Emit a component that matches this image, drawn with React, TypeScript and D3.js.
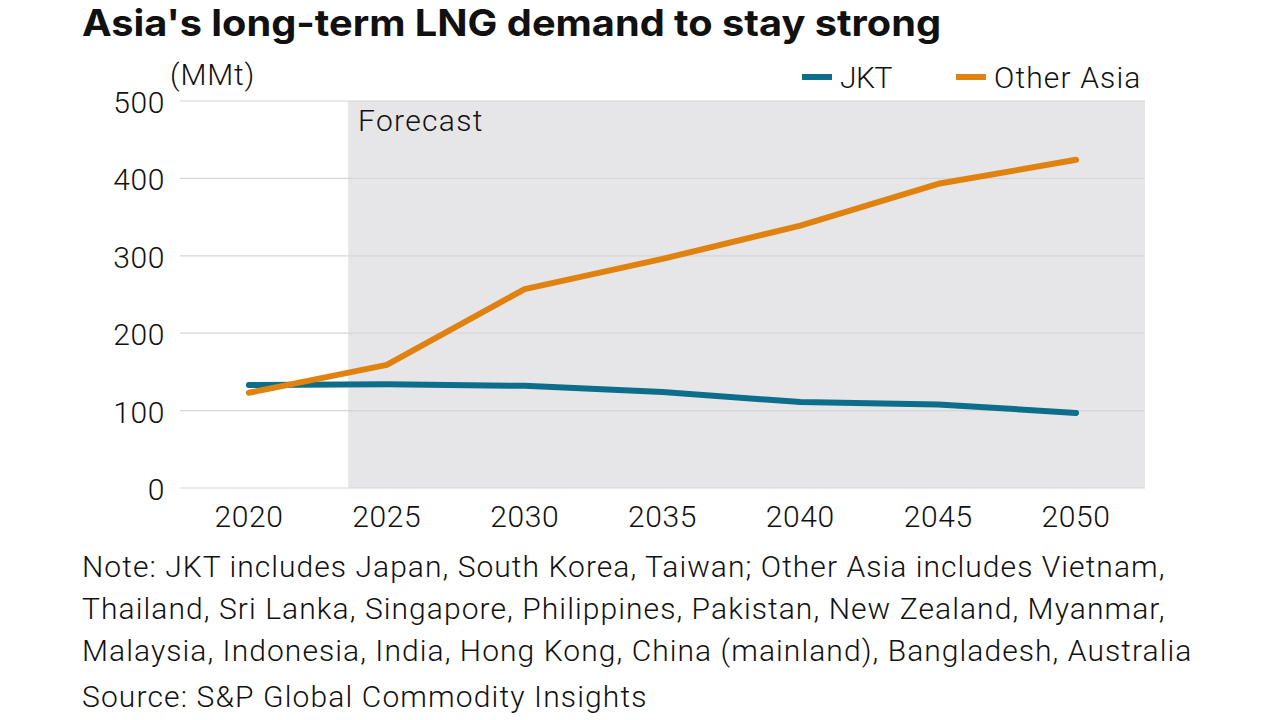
import React, { useEffect, useRef } from "react";
import * as d3 from "d3";

const years = [2020, 2025, 2030, 2035, 2040, 2045, 2050];
const jkt = [133, 134, 132, 124, 111, 108, 97];
const otherAsia = [123, 159, 257, 296, 339, 393, 424];
const yTicks = [0, 100, 200, 300, 400, 500];
const forecastStart = 2023.6;

const title = "Asia's long-term LNG demand to stay strong";
const noteLines = [
  "Note: JKT includes Japan, South Korea, Taiwan; Other Asia includes Vietnam,",
  "Thailand, Sri Lanka, Singapore, Philippines, Pakistan, New Zealand, Myanmar,",
  "Malaysia, Indonesia, India, Hong Kong, China (mainland), Bangladesh, Australia",
];
const noteWidths = [1083, 1083, 1110];
const source = "Source: S&P Global Commodity Insights";

const series = [
  { name: "JKT", values: jkt, color: "#0d6e8b", textWidth: 53 },
  { name: "Other Asia", values: otherAsia, color: "#e0820f", textWidth: 147 },
];

const FONT = "Roboto, 'Noto Sans', sans-serif";

const Chart: React.FC = () => {
  const svgRef = useRef<SVGSVGElement>(null);

  useEffect(() => {
    if (!svgRef.current) return;
    const svg = d3.select(svgRef.current);
    svg.selectAll("*").remove();

    const left = 180;
    const right = 1145;
    const top = 101;
    const bottom = 488;

    const x = d3.scaleLinear().domain([2017.5, 2052.5]).range([left, right]);
    const y = d3.scaleLinear().domain([0, 500]).range([bottom, top]);

    const label = (sel: d3.Selection<any, any, any, any>) =>
      sel
        .attr("font-family", FONT)
        .attr("font-weight", 300)
        .attr("font-size", 30)
        .attr("letter-spacing", 0.6)
        .attr("fill", "#111");

    // title
    svg
      .append("text")
      .attr("x", 82)
      .attr("y", 36)
      .attr("font-family", "Inter, Roboto, sans-serif")
      .attr("font-weight", 700)
      .attr("font-size", 37)
      .attr("textLength", 859)
      .attr("lengthAdjust", "spacingAndGlyphs")
      .attr("fill", "#111")
      .text(title);

    // forecast shading
    svg
      .append("rect")
      .attr("x", x(forecastStart))
      .attr("y", y(500))
      .attr("width", right - x(forecastStart))
      .attr("height", y(0) - y(500))
      .attr("fill", "#e6e6e8");

    // gridlines
    svg
      .append("g")
      .selectAll("line")
      .data(yTicks)
      .enter()
      .append("line")
      .attr("x1", left)
      .attr("x2", right)
      .attr("y1", (d) => y(d))
      .attr("y2", (d) => y(d))
      .attr("stroke", "#d6d6d8")
      .attr("stroke-width", 1.2);

    // y labels
    svg
      .append("g")
      .selectAll("text")
      .data(yTicks)
      .enter()
      .append("text")
      .attr("x", 165)
      .attr("y", (d) => y(d) + 12)
      .attr("text-anchor", "end")
      .call(label)
      .text((d) => String(d));

    // x labels
    svg
      .append("g")
      .selectAll("text")
      .data(years)
      .enter()
      .append("text")
      .attr("x", (d) => x(d))
      .attr("y", 527)
      .attr("text-anchor", "middle")
      .call(label)
      .text((d) => String(d));

    svg
      .append("text")
      .attr("x", 170)
      .attr("y", 85)
      .call(label)
      .attr("textLength", 85)
      .text("(MMt)");

    svg
      .append("text")
      .attr("x", 358)
      .attr("y", 131)
      .call(label)
      .attr("textLength", 125)
      .text("Forecast");

    // lines
    const line = d3
      .line<number>()
      .x((_, i) => x(years[i]))
      .y((d) => y(d));

    series.forEach((s) => {
      svg
        .append("path")
        .datum(s.values)
        .attr("fill", "none")
        .attr("stroke", s.color)
        .attr("stroke-width", 6)
        .attr("stroke-linecap", "round")
        .attr("stroke-linejoin", "round")
        .attr("d", line);
    });

    // legend
    const legendX = [802, 956];
    series.forEach((s, i) => {
      const lg = svg.append("g").attr("transform", `translate(${legendX[i]},77)`);
      lg.append("line")
        .attr("x1", 0)
        .attr("x2", 30)
        .attr("stroke", s.color)
        .attr("stroke-width", 6);
      lg.append("text")
        .attr("x", 38)
        .attr("y", 11)
        .call(label)
        .attr("textLength", s.textWidth)
        .text(s.name);
    });

    // notes
    const noteY = [577, 619, 661];
    noteLines.forEach((t, i) => {
      svg
        .append("text")
        .attr("x", 82)
        .attr("y", noteY[i])
        .call(label)
        .attr("textLength", noteWidths[i])
        .text(t);
    });
    svg
      .append("text")
      .attr("x", 82)
      .attr("y", 707)
      .call(label)
      .attr("textLength", 565)
      .text(source);
  }, []);

  return <svg ref={svgRef} width={1280} height={720} style={{ display: "block" }} />;
};

export default function App() {
  return (
    <div style={{ position: "absolute", left: 0, top: 0, background: "#fff" }}>
      <Chart />
    </div>
  );
}
